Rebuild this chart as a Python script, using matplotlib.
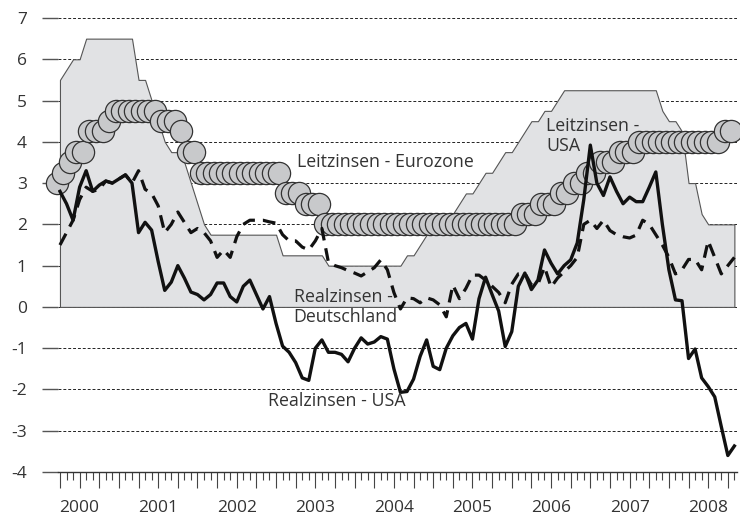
import numpy as np
import matplotlib.pyplot as plt

plt.rcParams['font.family'] = ['Open Sans', 'DejaVu Sans']

# monthly values, Jan 2000 .. Aug 2008
leitzins_usa = [
    5.5, 5.75, 6.0, 6.0, 6.5, 6.5, 6.5, 6.5, 6.5, 6.5, 6.5, 6.5,
    5.5, 5.5, 5.0, 4.5, 4.0, 3.75, 3.75, 3.5, 3.0, 2.5, 2.0, 1.75,
    1.75, 1.75, 1.75, 1.75, 1.75, 1.75, 1.75, 1.75, 1.75, 1.75, 1.25, 1.25,
    1.25, 1.25, 1.25, 1.25, 1.25, 1.0, 1.0, 1.0, 1.0, 1.0, 1.0, 1.0,
    1.0, 1.0, 1.0, 1.0, 1.0, 1.25, 1.25, 1.5, 1.75, 1.75, 2.0, 2.25,
    2.25, 2.5, 2.75, 2.75, 3.0, 3.25, 3.25, 3.5, 3.75, 3.75, 4.0, 4.25,
    4.5, 4.5, 4.75, 4.75, 5.0, 5.25, 5.25, 5.25, 5.25, 5.25, 5.25, 5.25,
    5.25, 5.25, 5.25, 5.25, 5.25, 5.25, 5.25, 5.25, 4.75, 4.5, 4.5, 4.25,
    3.0, 3.0, 2.25, 2.0, 2.0, 2.0, 2.0, 2.0,
]
leitzins_ez = [
    3.0, 3.25, 3.5, 3.75, 3.75, 4.25, 4.25, 4.25, 4.5, 4.75, 4.75, 4.75,
    4.75, 4.75, 4.75, 4.75, 4.5, 4.5, 4.5, 4.25, 3.75, 3.75, 3.25, 3.25,
    3.25, 3.25, 3.25, 3.25, 3.25, 3.25, 3.25, 3.25, 3.25, 3.25, 3.25, 2.75,
    2.75, 2.75, 2.5, 2.5, 2.5, 2.0, 2.0, 2.0, 2.0, 2.0, 2.0, 2.0,
    2.0, 2.0, 2.0, 2.0, 2.0, 2.0, 2.0, 2.0, 2.0, 2.0, 2.0, 2.0,
    2.0, 2.0, 2.0, 2.0, 2.0, 2.0, 2.0, 2.0, 2.0, 2.0, 2.0, 2.25,
    2.25, 2.25, 2.5, 2.5, 2.5, 2.75, 2.75, 3.0, 3.0, 3.25, 3.25, 3.5,
    3.5, 3.5, 3.75, 3.75, 3.75, 4.0, 4.0, 4.0, 4.0, 4.0, 4.0, 4.0,
    4.0, 4.0, 4.0, 4.0, 4.0, 4.0, 4.25, 4.25,
]
realzins_usa = [
    2.8, 2.5, 2.1, 2.9, 3.3, 2.8, 2.95, 3.05, 3.0, 3.1, 3.2, 3.0,
    1.8, 2.05, 1.86, 1.1, 0.4, 0.6, 1.0, 0.7, 0.36, 0.3, 0.17, 0.3,
    0.58, 0.58, 0.25, 0.12, 0.5, 0.65, 0.3, -0.05, 0.25, -0.4, -0.95, -1.1,
    -1.35, -1.72, -1.78, -1.0, -0.8, -1.1, -1.1, -1.15, -1.33, -1.0, -0.75, -0.9,
    -0.85, -0.72, -0.78, -1.5, -2.07, -2.05, -1.75, -1.2, -0.8, -1.44, -1.52, -1.0,
    -0.7, -0.5, -0.4, -0.78, 0.2, 0.72, 0.3, -0.1, -0.96, -0.6, 0.5, 0.82,
    0.42, 0.65, 1.38, 1.06, 0.8, 1.0, 1.14, 1.55, 2.6, 3.92, 3.0, 2.7,
    3.15, 2.8, 2.5, 2.66, 2.55, 2.55, 2.9, 3.27, 2.0, 0.9, 0.17, 0.15,
    -1.25, -1.02, -1.72, -1.93, -2.18, -2.9, -3.6, -3.37,
]
realzins_de = [
    1.5, 1.8, 2.1, 2.6, 2.9, 2.8, 2.85, 3.05, 3.0, 3.1, 3.2, 3.0,
    3.3, 2.85, 2.75, 2.45, 1.8, 2.0, 2.3, 2.05, 1.8, 1.9, 1.8, 1.6,
    1.2, 1.38, 1.2, 1.7, 2.0, 2.1, 2.1, 2.1, 2.06, 2.03, 1.75, 1.6,
    1.6, 1.45, 1.38, 1.6, 1.9, 1.08, 1.0, 0.95, 0.88, 0.82, 0.75, 0.85,
    0.95, 1.14, 0.9, 0.35, -0.05, 0.22, 0.2, 0.1, 0.22, 0.17, 0.05, -0.24,
    0.53, 0.2, 0.45, 0.77, 0.77, 0.65, 0.5, 0.35, 0.1, 0.55, 0.8, 0.82,
    0.53, 0.55, 0.97, 0.48, 0.7, 0.85, 1.0, 1.2, 2.0, 2.1, 1.9, 2.1,
    1.85, 1.75, 1.7, 1.67, 1.74, 2.1, 2.0, 1.75, 1.5, 1.2, 0.8, 0.9,
    1.15, 1.15, 0.9, 1.6, 1.2, 0.8, 1.0, 1.2,
]
jahre = ['2000', '2001', '2002', '2003', '2004', '2005', '2006', '2007', '2008']

monate = np.arange(len(leitzins_usa))
txt = '#333333'

fig, ax = plt.subplots(figsize=(7.4, 5.18), dpi=100)
fig.subplots_adjust(left=58/740, right=737/740, bottom=1-472/518, top=1-18/518)

ax.yaxis.grid(True, linestyle=(0, (3, 2)), color='#222222', lw=0.7)
ax.set_axisbelow(True)

ax.fill_between(monate, leitzins_usa, 0, facecolor='#e1e2e4',
                edgecolor='#555555', lw=0.8, zorder=1)
ax.plot(monate - 0.5, leitzins_ez, 'o', ms=16, mfc='#c8c9cb', mec='#333333',
        mew=0.9, zorder=3, clip_on=False)
ax.plot(monate, realzins_de, color='#111111', lw=2.3, dashes=(4, 2.5), zorder=4)
ax.plot(monate, realzins_usa, color='#111111', lw=2.4, zorder=5)

kw = dict(fontsize=12.8, color=txt, zorder=6)
ax.text(36.2, 3.5, 'Leitzinsen - Eurozone', va='center', **kw)
ax.text(74.3, 4.14, 'Leitzinsen -\nUSA', va='center', linespacing=1.2, **kw)
ax.text(35.7, 0.0, 'Realzinsen -\nDeutschland', va='center', linespacing=1.2, **kw)
ax.text(31.8, -2.28, 'Realzinsen - USA', va='center', **kw)

ax.set_xlim(-0.3, 103.4)
ax.set_ylim(-4, 7)

yt = list(range(-4, 8))
ax.set_yticks(yt, labels=[str(v) for v in yt])
quartale = list(range(0, len(monate), 3))
ax.set_xticks(quartale, labels=[jahre[(q - 3) // 12] if (q - 3) % 12 == 0 else '' for q in quartale])
ax.set_xticks(monate, minor=True)

ax.tick_params(axis='y', length=11.5, width=1, color='#555555', pad=11,
               labelsize=12.5, labelcolor=txt)
ax.tick_params(axis='x', which='major', length=11.5, width=0.8, color='#444444',
               pad=9, labelsize=12.5, labelcolor=txt)
ax.tick_params(axis='x', which='minor', length=5.5, width=0.8, color='#444444')

for s in ['top', 'right', 'left']:
    ax.spines[s].set_visible(False)
ax.spines['bottom'].set_color('#333333')
ax.spines['bottom'].set_linewidth(1)

fig.savefig('out.png', dpi=100)
